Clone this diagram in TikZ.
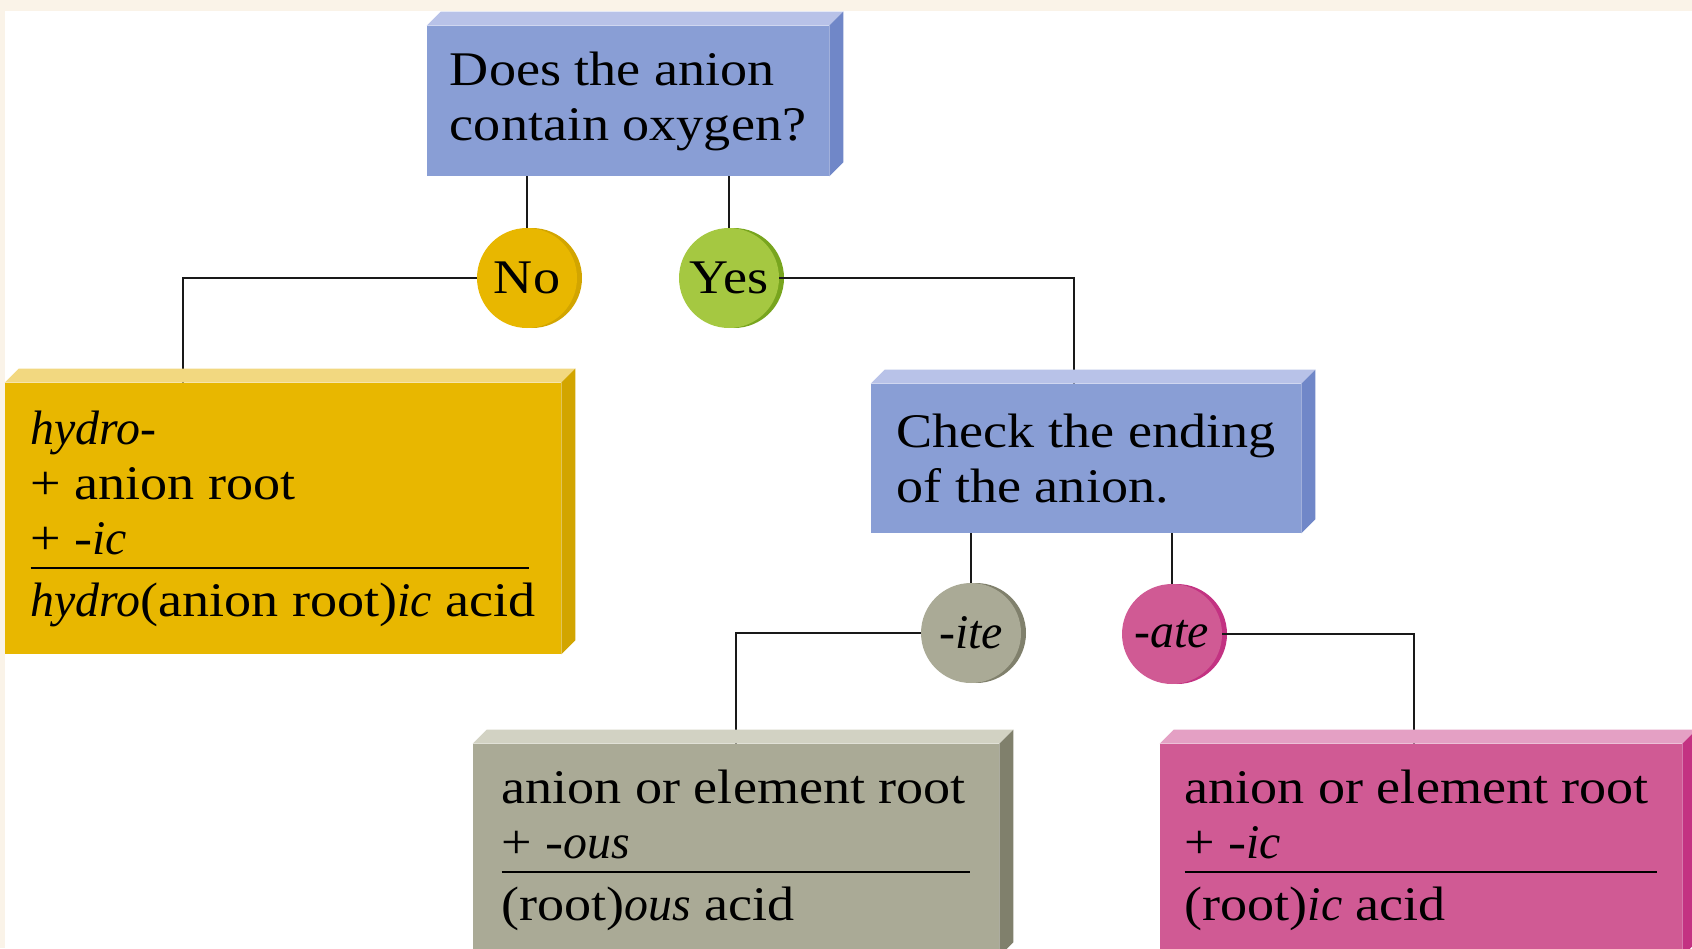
\documentclass[tikz,border=0pt]{standalone}
\usepackage{fontspec}
\setmainfont{Liberation Serif}[FakeStretch=1.12, ItalicFeatures={FakeStretch=0.99}]
\usetikzlibrary{positioning}

\definecolor{cream}{HTML}{FAF3E8}
\definecolor{qblue}{HTML}{899ED5}
\definecolor{qbluetop}{HTML}{B8C2E8}
\definecolor{qblueside}{HTML}{7087C8}
\definecolor{ayellow}{HTML}{E8B700}
\definecolor{ayellowtop}{HTML}{F2D880}
\definecolor{ayellowside}{HTML}{D2A500}
\definecolor{agray}{HTML}{AAAA96}
\definecolor{agraytop}{HTML}{D2D2C3}
\definecolor{agrayside}{HTML}{80806C}
\definecolor{apink}{HTML}{D05A94}
\definecolor{apinktop}{HTML}{E4A0C4}
\definecolor{apinkside}{HTML}{C33282}
\definecolor{agreen}{HTML}{A5C841}
\definecolor{agreendark}{HTML}{78A51E}

% top and right faces of a 3-D box
\newcommand{\boxbevel}[3]{%
  \fill[#2] (#1.north west) -- ++(14,-14) -- ([shift={(14,-14)}]#1.north east) -- (#1.north east) -- cycle;
  \fill[#3] (#1.north east) -- ++(14,-14) -- ([shift={(14,-14)}]#1.south east) -- (#1.south east) -- cycle;
}

\begin{document}
\begin{tikzpicture}[x=0.02cm, y=-0.02cm,
    txt/.style={font=\fontsize{27.5}{31.3}\selectfont},
    panel/.style={txt, rectangle, inner sep=0pt, align=left, fill=#1},
    disk/.style={txt, circle, inner sep=0pt, minimum size=2cm, fill=#1},
    rim/.style={preaction={fill=#1, transform canvas={xshift=0.1cm}}},
    link/.style={draw=black!90, line width=1.2pt}]

    \clip (0,0) rectangle (1692,948);

    % Background with cream edge
    \fill[cream] (0,0) rectangle (1692,948);
    \fill[white] (5,11) rectangle (1692,948);

    % Question box
    \node[panel=qblue, minimum width=8.04cm, minimum height=3cm] (question) at (628,101) {%
      Does the anion\\contain oxygen?};

    % No / Yes disks
    \node[disk=ayellow, rim=ayellowside] (no) at (527,278) {No};
    \node[disk=agreen, rim=agreendark] (yes) at (729,278) {Yes};

    % Check the ending box
    \node[panel=qblue, minimum width=8.6cm, minimum height=2.98cm] (ending) at (1086,458.5) {%
      Check the ending\\of the anion.};

    % -ite / -ate disks
    \node[disk=agray, rim=agrayside] (ite) at (971,633) {\textit{-ite}};
    \node[disk=apink, rim=apinkside] (ate) at (1172,634) {\textit{-ate}};

    % Result boxes
    \node[panel=ayellow, minimum width=11.12cm, minimum height=5.42cm] (hydro) at (283,518.5) {%
      \textit{hydro-}\\+ anion root\\+ -\textit{ic}\\[-0.8cm]
      \rule{9.98cm}{1.1pt}\\[-0.16cm]
      \textit{hydro}(anion root)\textit{ic} acid};
    \node[panel=agray, minimum width=10.52cm, minimum height=4.24cm] (ous) at (736,850) {%
      anion or element root\\+ -\textit{ous}\\[-0.8cm]
      \rule{9.38cm}{1.1pt}\\[-0.16cm]
      (root)\textit{ous} acid};
    \node[panel=apink, minimum width=10.44cm, minimum height=4.24cm] (ic) at (1421,850) {%
      anion or element root\\+ -\textit{ic}\\[-0.8cm]
      \rule{9.46cm}{1.1pt}\\[-0.16cm]
      (root)\textit{ic} acid};

    % Connectors
    \draw[link] (no.north) -- (no.north |- question.south);
    \draw[link] (yes.north) -- (yes.north |- question.south);
    \draw[link] (no.west) -| ([xshift=3.56cm]hydro.north west);
    \draw[link] (yes.east) -| ([xshift=4.06cm]ending.north west);
    \draw[link] (ite.north) -- (ite.north |- ending.south);
    \draw[link] (ate.north) -- (ate.north |- ending.south);
    \draw[link] (ite.west) -| ([xshift=5.26cm]ous.north west);
    \draw[link] (ate.east) -| ([xshift=5.08cm]ic.north west);

    % 3-D faces
    \boxbevel{question}{qbluetop}{qblueside}
    \boxbevel{ending}{qbluetop}{qblueside}
    \boxbevel{hydro}{ayellowtop}{ayellowside}
    \boxbevel{ous}{agraytop}{agrayside}
    \boxbevel{ic}{apinktop}{apinkside}

  \end{tikzpicture}
\end{document}
